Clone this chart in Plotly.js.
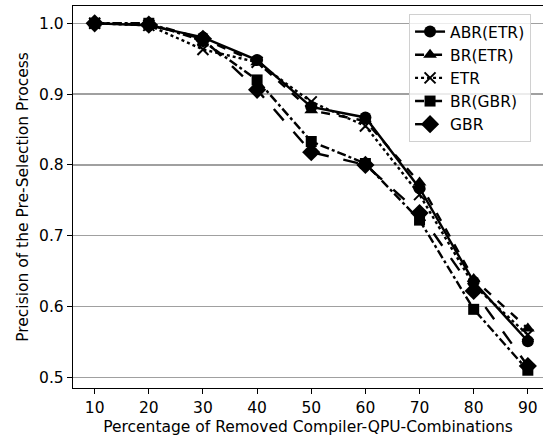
<!DOCTYPE html>
<html>
<head>
<meta charset="utf-8">
<script src="https://cdn.plot.ly/plotly-3.0.1.min.js"></script>
<style>html,body{margin:0;padding:0;background:#fff;}#chart{width:543px;height:439px;}</style>
</head>
<body>
<div id="chart"></div>
<script>
const xValues = [10, 20, 30, 40, 50, 60, 70, 80, 90];
const abrEtr = [1.0, 0.997, 0.980, 0.948, 0.882, 0.867, 0.767, 0.635, 0.551];
const brEtr  = [1.0, 1.0, 0.978, 0.945, 0.877, 0.862, 0.775, 0.639, 0.569];
const etr    = [1.0, 0.997, 0.963, 0.945, 0.889, 0.855, 0.758, 0.630, 0.560];
const brGbr  = [1.0, 1.0, 0.975, 0.920, 0.833, 0.802, 0.722, 0.596, 0.510];
const gbr    = [1.0, 0.998, 0.978, 0.906, 0.818, 0.800, 0.732, 0.622, 0.516];
const seriesNames = ["ABR(ETR)", "BR(ETR)", "ETR", "BR(GBR)", "GBR"];
const xTicks = [10, 20, 30, 40, 50, 60, 70, 80, 90];
const yTicks = [0.5, 0.6, 0.7, 0.8, 0.9, 1.0];

const font = "DejaVu Sans, sans-serif";
const fs = 15.5;
const styles = [
  {dash: "solid", symbol: "circle", size: 12},
  {dash: "dash", symbol: "triangle-up", size: 12},
  {dash: "dot", symbol: "x-thin", size: 11},
  {dash: "dashdot", symbol: "square", size: 11},
  {dash: "longdash", symbol: "diamond", size: 14}
];
const data = [abrEtr, brEtr, etr, brGbr, gbr].map((ys, i) => ({
  x: xValues, y: ys, name: seriesNames[i], type: "scatter", mode: "lines+markers",
  line: {color: "#000", width: 2.4, dash: styles[i].dash},
  marker: {symbol: styles[i].symbol, size: styles[i].size, color: "#000",
           line: {color: "#000", width: styles[i].symbol === "x-thin" ? 2 : 0}}
}));

const layout = {
  width: 543, height: 439,
  margin: {l: 73, r: 0, t: 6, b: 51},
  paper_bgcolor: "#fff", plot_bgcolor: "#fff",
  font: {family: font, size: fs, color: "#000"},
  showlegend: true,
  legend: {x: 0.715, y: 0.979, xanchor: "left", yanchor: "top",
           bgcolor: "rgba(255,255,255,0.8)", bordercolor: "#d0d0d0", borderwidth: 1,
           font: {family: font, size: fs, color: "#000"}, tracegroupgap: 0},
  xaxis: {
    range: [6, 92.8], tickvals: xTicks, ticktext: xTicks.map(String),
    showgrid: false, zeroline: false, showline: true, linecolor: "#000", linewidth: 1.2,
    mirror: true, ticks: "outside", ticklen: 5, tickcolor: "#000",
    tickfont: {size: fs},
    title: {text: "Percentage of Removed Compiler-QPU-Combinations", font: {size: fs}, standoff: 5}
  },
  yaxis: {
    range: [0.4849, 1.0244], tickvals: yTicks, ticktext: yTicks.map(v => v.toFixed(1)),
    showgrid: true, gridcolor: "#a0a0a0", gridwidth: 1.3, zeroline: false,
    showline: true, linecolor: "#000", linewidth: 1.2,
    ticks: "outside", ticklen: 5, tickcolor: "#000",
    tickfont: {size: fs},
    title: {text: "Precision of the Pre-Selection Process", font: {size: fs}, standoff: 6}
  }
};
Plotly.newPlot("chart", data, layout, {staticPlot: true, displayModeBar: false});
</script>
</body>
</html>
